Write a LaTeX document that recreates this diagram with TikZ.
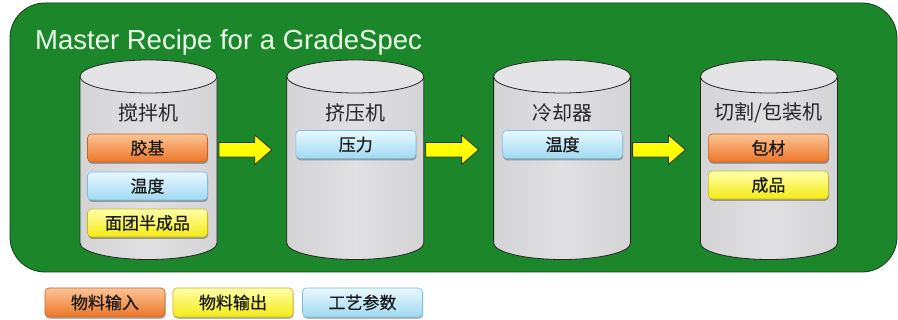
\documentclass[tikz,border=0pt]{standalone}
\usepackage{fontspec}
\setmainfont{Liberation Sans}
\newfontfamily\cjk{Noto Sans CJK SC}
\newfontfamily\cjktag[FakeBold=0.6]{Noto Sans CJK SC}
\usetikzlibrary{calc,shadows}
\definecolor{panelgreen}{RGB}{28,135,42}
\definecolor{paneledge}{RGB}{15,60,20}
\definecolor{cylgray}{RGB}{212,212,215}
\definecolor{cylgraylight}{RGB}{224,224,227}
\definecolor{cyltopgray}{RGB}{228,228,231}
\definecolor{ortop}{RGB}{253,196,148}
\definecolor{orbot}{RGB}{236,118,40}
\definecolor{oredge}{RGB}{196,100,40}
\definecolor{bltop}{RGB}{232,248,254}
\definecolor{blbot}{RGB}{160,218,242}
\definecolor{bledge}{RGB}{120,190,225}
\definecolor{yltop}{RGB}{255,255,170}
\definecolor{ylbot}{RGB}{244,234,20}
\definecolor{yledge}{RGB}{200,185,20}
\definecolor{arrowyellow}{RGB}{255,255,0}
\newcommand\cylshape[2]{%
  \node[cylnode] (#1) at (#2,160.25) {};
  \fill[left color=cylgray, right color=cylgray, middle color=cylgraylight]
    (#1.north west) -- (#1.south west)
    arc[start angle=180, end angle=360, x radius=68.5, y radius=16.5]
    -- (#1.north east) -- cycle;
  \draw[cylline] (#1.north west) -- (#1.south west)
    arc[start angle=180, end angle=360, x radius=68.5, y radius=16.5]
    -- (#1.north east);
  \filldraw[cylline, fill=cyltopgray] (#1.north) ellipse[x radius=68.5, y radius=16.5];
}
\newcommand\fatarrow[2]{%
  \filldraw[fatarrowstyle]
    ($(#1.east)+(2,17.25)$) -- ($(#2.west)+(-32,17.25)$)
    -- ($(#2.west)+(-32,24.75)$) -- ($(#2.west)+(-15,10)$)
    -- ($(#2.west)+(-32,-4.75)$) -- ($(#2.west)+(-32,2.75)$)
    -- ($(#1.east)+(2,2.75)$) -- cycle;
}
\begin{document}
\begin{tikzpicture}[x=1pt,y=1pt,
  panel/.style={fill=panelgreen, draw=paneledge, line width=0.8pt, rounded corners=35pt},
  titlestyle/.style={text=white!92!green, font=\fontsize{27.5}{30}\selectfont, inner sep=0pt},
  cylnode/.style={rectangle, inner sep=0pt, outer sep=0pt, minimum width=137pt, minimum height=166.5pt},
  cylline/.style={draw=black!85, line width=0.8pt},
  cyllabel/.style={font=\cjk\fontsize{20}{20}\selectfont, text=black!85, inner sep=0pt},
  tag/.style={rounded corners=4pt, minimum width=120pt, minimum height=28pt, inner sep=0pt,
    font=\cjktag\fontsize{17}{17}\selectfont, text=black!90,
    drop shadow={shadow xshift=0.6pt, shadow yshift=-1.8pt, opacity=0.3, fill=black}},
  ortag/.style={tag, draw=oredge, line width=0.6pt, top color=ortop, bottom color=orbot},
  bltag/.style={tag, draw=bledge, line width=0.6pt, top color=bltop, bottom color=blbot},
  yltag/.style={tag, draw=yledge, line width=0.6pt, top color=yltop, bottom color=ylbot},
  fatarrowstyle/.style={fill=arrowyellow, draw=black!80, line width=0.8pt, line join=miter}
]
\useasboundingbox (0,0) rectangle (898,320);
\draw[panel] (10,48) rectangle (897,317);
\node[titlestyle, anchor=base west] (title) at (35,270) {Master Recipe for a GradeSpec};

\cylshape{c1}{148.5}
\cylshape{c2}{355.3}
\cylshape{c3}{562.1}
\cylshape{c4}{768.9}

\fatarrow{c1}{c2}
\fatarrow{c2}{c3}
\fatarrow{c3}{c4}

\node[cyllabel] (l1) at (148.5,207) {搅拌机};
\node[cyllabel] (l2) at (355.3,207) {挤压机};
\node[cyllabel] (l3) at (562.1,207) {冷却器};
\node[cyllabel] (l4) at (768.9,207) {切割/包装机};

\node[ortag] (t11) at (147.5,172) {胶基};
\node[bltag] (t12) at (147.5,134) {温度};
\node[yltag] (t13) at (147.5,97) {面团半成品};

\node[bltag] (t21) at (355.8,175.5) {压力};

\node[bltag] (t31) at (562.6,175.5) {温度};

\node[ortag] (t41) at (768.4,172) {包材};
\node[yltag] (t42) at (768.4,135) {成品};

\node[ortag, minimum height=29pt] (k1) at (105,17.5) {物料输入};
\node[yltag, minimum height=29pt] (k2) at (233,17.5) {物料输出};
\node[bltag, minimum height=29pt] (k3) at (362.5,17.5) {工艺参数};
\end{tikzpicture}
\end{document}
